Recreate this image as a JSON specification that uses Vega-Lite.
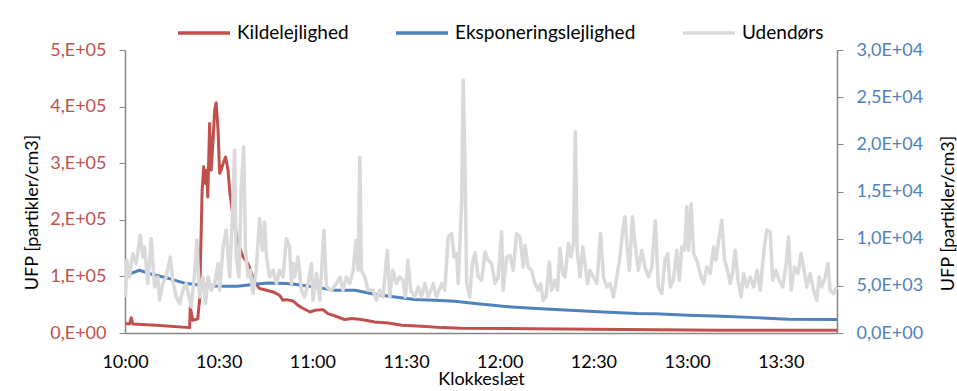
{
 "$schema": "https://vega.github.io/schema/vega-lite/v6.json",
 "width": 712, "height": 283,
 "autosize": "none",
 "padding": {"left": 125, "top": 50, "right": 120, "bottom": 58},
 "background": "white",
 "config": {"view": {"stroke": null}, "font": "Lato"},
 "datasets": {
  "red": [
   {"t":"10:00:10","serie":"Kildelejlighed","v":16600},
   {"t":"10:01:30","serie":"Kildelejlighed","v":16000},
   {"t":"10:02:00","serie":"Kildelejlighed","v":27000},
   {"t":"10:02:30","serie":"Kildelejlighed","v":16000},
   {"t":"10:10:00","serie":"Kildelejlighed","v":13500},
   {"t":"10:20:42","serie":"Kildelejlighed","v":9500},
   {"t":"10:20:54","serie":"Kildelejlighed","v":46000},
   {"t":"10:21:42","serie":"Kildelejlighed","v":22500},
   {"t":"10:23:18","serie":"Kildelejlighed","v":25000},
   {"t":"10:23:54","serie":"Kildelejlighed","v":60000},
   {"t":"10:24:42","serie":"Kildelejlighed","v":252000},
   {"t":"10:25:12","serie":"Kildelejlighed","v":293600},
   {"t":"10:25:48","serie":"Kildelejlighed","v":264000},
   {"t":"10:26:12","serie":"Kildelejlighed","v":287700},
   {"t":"10:26:30","serie":"Kildelejlighed","v":240500},
   {"t":"10:27:06","serie":"Kildelejlighed","v":370000},
   {"t":"10:27:36","serie":"Kildelejlighed","v":287700},
   {"t":"10:28:12","serie":"Kildelejlighed","v":340800},
   {"t":"10:28:42","serie":"Kildelejlighed","v":394000},
   {"t":"10:29:12","serie":"Kildelejlighed","v":406800},
   {"t":"10:29:48","serie":"Kildelejlighed","v":358500},
   {"t":"10:30:18","serie":"Kildelejlighed","v":282000},
   {"t":"10:30:48","serie":"Kildelejlighed","v":287700},
   {"t":"10:31:24","serie":"Kildelejlighed","v":299600},
   {"t":"10:32:12","serie":"Kildelejlighed","v":311000},
   {"t":"10:33:00","serie":"Kildelejlighed","v":287700},
   {"t":"10:33:30","serie":"Kildelejlighed","v":252000},
   {"t":"10:34:36","serie":"Kildelejlighed","v":205000},
   {"t":"10:36:12","serie":"Kildelejlighed","v":158000},
   {"t":"10:37:48","serie":"Kildelejlighed","v":134400},
   {"t":"10:39:24","serie":"Kildelejlighed","v":122700},
   {"t":"10:40:30","serie":"Kildelejlighed","v":105000},
   {"t":"10:41:30","serie":"Kildelejlighed","v":90200},
   {"t":"10:43:06","serie":"Kildelejlighed","v":78500},
   {"t":"10:45:18","serie":"Kildelejlighed","v":75500},
   {"t":"10:47:24","serie":"Kildelejlighed","v":72500},
   {"t":"10:49:30","serie":"Kildelejlighed","v":66700},
   {"t":"10:50:36","serie":"Kildelejlighed","v":57800},
   {"t":"10:51:42","serie":"Kildelejlighed","v":59000},
   {"t":"10:53:48","serie":"Kildelejlighed","v":56600},
   {"t":"10:55:24","serie":"Kildelejlighed","v":49000},
   {"t":"10:56:30","serie":"Kildelejlighed","v":45000},
   {"t":"10:59:12","serie":"Kildelejlighed","v":37100},
   {"t":"11:00:48","serie":"Kildelejlighed","v":40000},
   {"t":"11:03:24","serie":"Kildelejlighed","v":41300},
   {"t":"11:05:00","serie":"Kildelejlighed","v":34300},
   {"t":"11:08:12","serie":"Kildelejlighed","v":28300},
   {"t":"11:10:24","serie":"Kildelejlighed","v":23700},
   {"t":"11:12:30","serie":"Kildelejlighed","v":25500},
   {"t":"11:15:42","serie":"Kildelejlighed","v":23700},
   {"t":"11:20:00","serie":"Kildelejlighed","v":19500},
   {"t":"11:24:18","serie":"Kildelejlighed","v":17700},
   {"t":"11:28:36","serie":"Kildelejlighed","v":13600},
   {"t":"11:35:00","serie":"Kildelejlighed","v":11800},
   {"t":"11:41:24","serie":"Kildelejlighed","v":9500},
   {"t":"11:47:48","serie":"Kildelejlighed","v":8300},
   {"t":"12:10:00","serie":"Kildelejlighed","v":7500},
   {"t":"12:40:00","serie":"Kildelejlighed","v":6000},
   {"t":"13:10:00","serie":"Kildelejlighed","v":5000},
   {"t":"13:48:00","serie":"Kildelejlighed","v":5000}
  ],
  "blue": [
   {"t":"10:00:10","serie":"Eksponeringslejlighed","v":6100},
   {"t":"10:04:36","serie":"Eksponeringslejlighed","v":6650},
   {"t":"10:08:54","serie":"Eksponeringslejlighed","v":6200},
   {"t":"10:14:12","serie":"Eksponeringslejlighed","v":5770},
   {"t":"10:19:36","serie":"Eksponeringslejlighed","v":5240},
   {"t":"10:24:54","serie":"Eksponeringslejlighed","v":5060},
   {"t":"10:30:18","serie":"Eksponeringslejlighed","v":4950},
   {"t":"10:36:00","serie":"Eksponeringslejlighed","v":4950},
   {"t":"10:41:30","serie":"Eksponeringslejlighed","v":5170},
   {"t":"10:45:48","serie":"Eksponeringslejlighed","v":5300},
   {"t":"10:51:42","serie":"Eksponeringslejlighed","v":5240},
   {"t":"10:54:18","serie":"Eksponeringslejlighed","v":5170},
   {"t":"11:00:48","serie":"Eksponeringslejlighed","v":4880},
   {"t":"11:07:12","serie":"Eksponeringslejlighed","v":4530},
   {"t":"11:13:36","serie":"Eksponeringslejlighed","v":4530},
   {"t":"11:20:00","serie":"Eksponeringslejlighed","v":4110},
   {"t":"11:26:24","serie":"Eksponeringslejlighed","v":3820},
   {"t":"11:32:48","serie":"Eksponeringslejlighed","v":3540},
   {"t":"11:39:12","serie":"Eksponeringslejlighed","v":3470},
   {"t":"11:45:42","serie":"Eksponeringslejlighed","v":3360},
   {"t":"11:52:06","serie":"Eksponeringslejlighed","v":3120},
   {"t":"12:01:06","serie":"Eksponeringslejlighed","v":2830},
   {"t":"12:11:48","serie":"Eksponeringslejlighed","v":2590},
   {"t":"12:22:30","serie":"Eksponeringslejlighed","v":2410},
   {"t":"12:33:12","serie":"Eksponeringslejlighed","v":2230},
   {"t":"12:43:54","serie":"Eksponeringslejlighed","v":2060},
   {"t":"12:49:48","serie":"Eksponeringslejlighed","v":2040},
   {"t":"13:00:24","serie":"Eksponeringslejlighed","v":1880},
   {"t":"13:11:06","serie":"Eksponeringslejlighed","v":1770},
   {"t":"13:21:48","serie":"Eksponeringslejlighed","v":1630},
   {"t":"13:32:30","serie":"Eksponeringslejlighed","v":1450},
   {"t":"13:48:00","serie":"Eksponeringslejlighed","v":1420}
  ],
  "gray": [
   {"t":"10:00:10","serie":"Udendørs","v":3820},
   {"t":"10:00:35","serie":"Udendørs","v":7710},
   {"t":"10:01:26","serie":"Udendørs","v":5940},
   {"t":"10:02:31","serie":"Udendørs","v":8420},
   {"t":"10:03:35","serie":"Udendørs","v":7360},
   {"t":"10:04:52","serie":"Udendørs","v":10370},
   {"t":"10:05:43","serie":"Udendørs","v":8060},
   {"t":"10:06:15","serie":"Udendørs","v":9130},
   {"t":"10:07:19","serie":"Udendørs","v":5240},
   {"t":"10:08:23","serie":"Udendørs","v":10010},
   {"t":"10:09:28","serie":"Udendørs","v":4880},
   {"t":"10:10:30","serie":"Udendørs","v":5940},
   {"t":"10:11:04","serie":"Udendørs","v":3470},
   {"t":"10:12:06","serie":"Udendørs","v":5240},
   {"t":"10:13:12","serie":"Udendørs","v":5940},
   {"t":"10:14:30","serie":"Udendørs","v":8060},
   {"t":"10:15:18","serie":"Udendørs","v":5590},
   {"t":"10:16:24","serie":"Udendørs","v":3820},
   {"t":"10:17:30","serie":"Udendørs","v":3120},
   {"t":"10:18:30","serie":"Udendørs","v":4530},
   {"t":"10:19:36","serie":"Udendørs","v":5240},
   {"t":"10:21:12","serie":"Udendørs","v":2760},
   {"t":"10:22:18","serie":"Udendørs","v":6300},
   {"t":"10:23:00","serie":"Udendørs","v":9830},
   {"t":"10:23:54","serie":"Udendørs","v":3820},
   {"t":"10:24:54","serie":"Udendørs","v":5940},
   {"t":"10:25:48","serie":"Udendørs","v":3120},
   {"t":"10:26:36","serie":"Udendørs","v":5940},
   {"t":"10:27:36","serie":"Udendørs","v":4530},
   {"t":"10:28:42","serie":"Udendørs","v":5240},
   {"t":"10:29:48","serie":"Udendørs","v":7360},
   {"t":"10:30:18","serie":"Udendørs","v":4530},
   {"t":"10:31:24","serie":"Udendørs","v":9130},
   {"t":"10:32:24","serie":"Udendørs","v":10900},
   {"t":"10:33:30","serie":"Udendørs","v":5940},
   {"t":"10:34:24","serie":"Udendørs","v":12310},
   {"t":"10:35:06","serie":"Udendørs","v":19380},
   {"t":"10:35:36","serie":"Udendørs","v":8060},
   {"t":"10:36:30","serie":"Udendørs","v":5940},
   {"t":"10:37:12","serie":"Udendørs","v":15140},
   {"t":"10:38:00","serie":"Udendørs","v":19730},
   {"t":"10:38:36","serie":"Udendørs","v":8770},
   {"t":"10:39:24","serie":"Udendørs","v":5940},
   {"t":"10:40:06","serie":"Udendørs","v":6650},
   {"t":"10:41:00","serie":"Udendørs","v":4180},
   {"t":"10:42:00","serie":"Udendørs","v":6650},
   {"t":"10:43:06","serie":"Udendørs","v":12140},
   {"t":"10:43:58","serie":"Udendørs","v":8770},
   {"t":"10:44:42","serie":"Udendørs","v":11780},
   {"t":"10:45:18","serie":"Udendørs","v":8060},
   {"t":"10:46:18","serie":"Udendørs","v":5940},
   {"t":"10:47:24","serie":"Udendørs","v":6650},
   {"t":"10:48:30","serie":"Udendørs","v":5240},
   {"t":"10:49:30","serie":"Udendørs","v":6650},
   {"t":"10:50:36","serie":"Udendørs","v":5940},
   {"t":"10:51:42","serie":"Udendørs","v":10010},
   {"t":"10:52:42","serie":"Udendørs","v":9130},
   {"t":"10:53:18","serie":"Udendørs","v":5240},
   {"t":"10:53:48","serie":"Udendørs","v":7360},
   {"t":"10:54:18","serie":"Udendørs","v":5940},
   {"t":"10:55:24","serie":"Udendørs","v":8060},
   {"t":"10:56:30","serie":"Udendørs","v":4530},
   {"t":"10:57:30","serie":"Udendørs","v":3820},
   {"t":"10:58:36","serie":"Udendørs","v":5240},
   {"t":"10:59:42","serie":"Udendørs","v":7360},
   {"t":"11:00:12","serie":"Udendørs","v":3470},
   {"t":"11:01:18","serie":"Udendørs","v":6300},
   {"t":"11:02:24","serie":"Udendørs","v":3470},
   {"t":"11:03:42","serie":"Udendørs","v":10900},
   {"t":"11:04:30","serie":"Udendørs","v":4880},
   {"t":"11:06:06","serie":"Udendørs","v":4530},
   {"t":"11:07:42","serie":"Udendørs","v":5240},
   {"t":"11:08:48","serie":"Udendørs","v":5940},
   {"t":"11:09:48","serie":"Udendørs","v":4530},
   {"t":"11:10:54","serie":"Udendørs","v":5940},
   {"t":"11:12:00","serie":"Udendørs","v":5240},
   {"t":"11:13:06","serie":"Udendørs","v":6650},
   {"t":"11:13:54","serie":"Udendørs","v":9830},
   {"t":"11:14:39","serie":"Udendørs","v":6650},
   {"t":"11:15:12","serie":"Udendørs","v":18670},
   {"t":"11:15:42","serie":"Udendørs","v":6650},
   {"t":"11:16:48","serie":"Udendørs","v":5940},
   {"t":"11:17:48","serie":"Udendørs","v":4530},
   {"t":"11:19:24","serie":"Udendørs","v":4530},
   {"t":"11:20:30","serie":"Udendørs","v":3470},
   {"t":"11:21:30","serie":"Udendørs","v":4530},
   {"t":"11:22:36","serie":"Udendørs","v":3820},
   {"t":"11:24:00","serie":"Udendørs","v":8770},
   {"t":"11:24:48","serie":"Udendørs","v":3820},
   {"t":"11:25:48","serie":"Udendørs","v":6650},
   {"t":"11:26:54","serie":"Udendørs","v":5240},
   {"t":"11:28:00","serie":"Udendørs","v":5940},
   {"t":"11:29:00","serie":"Udendørs","v":5590},
   {"t":"11:29:48","serie":"Udendørs","v":3820},
   {"t":"11:30:36","serie":"Udendørs","v":7710},
   {"t":"11:31:30","serie":"Udendørs","v":4530},
   {"t":"11:32:48","serie":"Udendørs","v":3820},
   {"t":"11:33:54","serie":"Udendørs","v":4880},
   {"t":"11:34:54","serie":"Udendørs","v":3820},
   {"t":"11:36:00","serie":"Udendørs","v":5240},
   {"t":"11:37:06","serie":"Udendørs","v":3820},
   {"t":"11:38:42","serie":"Udendørs","v":5240},
   {"t":"11:39:42","serie":"Udendørs","v":3820},
   {"t":"11:41:24","serie":"Udendørs","v":5240},
   {"t":"11:42:24","serie":"Udendørs","v":4530},
   {"t":"11:43:30","serie":"Udendørs","v":10190},
   {"t":"11:44:36","serie":"Udendørs","v":10550},
   {"t":"11:45:24","serie":"Udendørs","v":8060},
   {"t":"11:46:12","serie":"Udendørs","v":8420},
   {"t":"11:46:42","serie":"Udendørs","v":5240},
   {"t":"11:47:48","serie":"Udendørs","v":13730},
   {"t":"11:48:18","serie":"Udendørs","v":26810},
   {"t":"11:48:54","serie":"Udendørs","v":17260},
   {"t":"11:49:24","serie":"Udendørs","v":5240},
   {"t":"11:50:24","serie":"Udendørs","v":3820},
   {"t":"11:51:12","serie":"Udendørs","v":7300},
   {"t":"11:52:06","serie":"Udendørs","v":8500},
   {"t":"11:53:06","serie":"Udendørs","v":5940},
   {"t":"11:54:12","serie":"Udendørs","v":5590},
   {"t":"11:55:18","serie":"Udendørs","v":8590},
   {"t":"11:56:18","serie":"Udendørs","v":7710},
   {"t":"11:57:24","serie":"Udendørs","v":7360},
   {"t":"11:58:30","serie":"Udendørs","v":5240},
   {"t":"11:59:30","serie":"Udendørs","v":5940},
   {"t":"12:00:36","serie":"Udendørs","v":10720},
   {"t":"12:01:06","serie":"Udendørs","v":4530},
   {"t":"12:02:12","serie":"Udendørs","v":8060},
   {"t":"12:03:18","serie":"Udendørs","v":8240},
   {"t":"12:04:18","serie":"Udendørs","v":6650},
   {"t":"12:05:24","serie":"Udendørs","v":10550},
   {"t":"12:06:30","serie":"Udendørs","v":10190},
   {"t":"12:07:30","serie":"Udendørs","v":7000},
   {"t":"12:08:06","serie":"Udendørs","v":9300},
   {"t":"12:09:06","serie":"Udendørs","v":7000},
   {"t":"12:10:12","serie":"Udendørs","v":6650},
   {"t":"12:11:18","serie":"Udendørs","v":5240},
   {"t":"12:12:18","serie":"Udendørs","v":4530},
   {"t":"12:13:06","serie":"Udendørs","v":5240},
   {"t":"12:13:54","serie":"Udendørs","v":3470},
   {"t":"12:14:48","serie":"Udendørs","v":3820},
   {"t":"12:15:54","serie":"Udendørs","v":7530},
   {"t":"12:16:36","serie":"Udendørs","v":4530},
   {"t":"12:17:42","serie":"Udendørs","v":5590},
   {"t":"12:18:30","serie":"Udendørs","v":4530},
   {"t":"12:19:18","serie":"Udendørs","v":8950},
   {"t":"12:20:12","serie":"Udendørs","v":6300},
   {"t":"12:20:54","serie":"Udendørs","v":5940},
   {"t":"12:22:00","serie":"Udendørs","v":9480},
   {"t":"12:22:48","serie":"Udendørs","v":8060},
   {"t":"12:23:36","serie":"Udendørs","v":9480},
   {"t":"12:24:12","serie":"Udendørs","v":21330},
   {"t":"12:24:48","serie":"Udendørs","v":8770},
   {"t":"12:25:42","serie":"Udendørs","v":5940},
   {"t":"12:26:36","serie":"Udendørs","v":9130},
   {"t":"12:27:18","serie":"Udendørs","v":7360},
   {"t":"12:28:06","serie":"Udendørs","v":5240},
   {"t":"12:28:54","serie":"Udendørs","v":6650},
   {"t":"12:30:00","serie":"Udendørs","v":5940},
   {"t":"12:31:06","serie":"Udendørs","v":5240},
   {"t":"12:32:18","serie":"Udendørs","v":10550},
   {"t":"12:33:12","serie":"Udendørs","v":5940},
   {"t":"12:34:18","serie":"Udendørs","v":4880},
   {"t":"12:35:18","serie":"Udendørs","v":5240},
   {"t":"12:36:24","serie":"Udendørs","v":3820},
   {"t":"12:37:30","serie":"Udendørs","v":5940},
   {"t":"12:38:30","serie":"Udendørs","v":8060},
   {"t":"12:39:24","serie":"Udendørs","v":10900},
   {"t":"12:40:06","serie":"Udendørs","v":12310},
   {"t":"12:40:42","serie":"Udendørs","v":9480},
   {"t":"12:41:30","serie":"Udendørs","v":6650},
   {"t":"12:42:30","serie":"Udendørs","v":12310},
   {"t":"12:43:18","serie":"Udendørs","v":9480},
   {"t":"12:44:24","serie":"Udendørs","v":6650},
   {"t":"12:45:30","serie":"Udendørs","v":8770},
   {"t":"12:46:30","serie":"Udendørs","v":7000},
   {"t":"12:47:36","serie":"Udendørs","v":5940},
   {"t":"12:48:42","serie":"Udendørs","v":7000},
   {"t":"12:49:48","serie":"Udendørs","v":11900},
   {"t":"12:50:48","serie":"Udendørs","v":4880},
   {"t":"12:51:54","serie":"Udendørs","v":4180},
   {"t":"12:52:54","serie":"Udendørs","v":7710},
   {"t":"12:53:48","serie":"Udendørs","v":8420},
   {"t":"12:54:36","serie":"Udendørs","v":4880},
   {"t":"12:55:36","serie":"Udendørs","v":5590},
   {"t":"12:56:42","serie":"Udendørs","v":8770},
   {"t":"12:57:30","serie":"Udendørs","v":5590},
   {"t":"12:58:18","serie":"Udendørs","v":9130},
   {"t":"12:59:12","serie":"Udendørs","v":8770},
   {"t":"12:59:54","serie":"Udendørs","v":13370},
   {"t":"13:00:30","serie":"Udendørs","v":8770},
   {"t":"13:01:18","serie":"Udendørs","v":13730},
   {"t":"13:02:06","serie":"Udendørs","v":8420},
   {"t":"13:03:06","serie":"Udendørs","v":7710},
   {"t":"13:04:12","serie":"Udendørs","v":6300},
   {"t":"13:05:18","serie":"Udendørs","v":5240},
   {"t":"13:06:18","serie":"Udendørs","v":7000},
   {"t":"13:07:24","serie":"Udendørs","v":6300},
   {"t":"13:08:30","serie":"Udendørs","v":9130},
   {"t":"13:09:12","serie":"Udendørs","v":7710},
   {"t":"13:10:06","serie":"Udendørs","v":9830},
   {"t":"13:11:06","serie":"Udendørs","v":11960},
   {"t":"13:12:00","serie":"Udendørs","v":7710},
   {"t":"13:12:42","serie":"Udendørs","v":7000},
   {"t":"13:13:48","serie":"Udendørs","v":5240},
   {"t":"13:14:30","serie":"Udendørs","v":6300},
   {"t":"13:15:24","serie":"Udendørs","v":8770},
   {"t":"13:16:18","serie":"Udendørs","v":5590},
   {"t":"13:17:18","serie":"Udendørs","v":3820},
   {"t":"13:18:06","serie":"Udendørs","v":6300},
   {"t":"13:19:06","serie":"Udendørs","v":4880},
   {"t":"13:20:12","serie":"Udendørs","v":5940},
   {"t":"13:21:18","serie":"Udendørs","v":4880},
   {"t":"13:22:24","serie":"Udendørs","v":6650},
   {"t":"13:23:24","serie":"Udendørs","v":4530},
   {"t":"13:24:30","serie":"Udendørs","v":8420},
   {"t":"13:25:30","serie":"Udendørs","v":10900},
   {"t":"13:26:36","serie":"Udendørs","v":10720},
   {"t":"13:27:24","serie":"Udendørs","v":5590},
   {"t":"13:28:24","serie":"Udendørs","v":6650},
   {"t":"13:29:30","serie":"Udendørs","v":5590},
   {"t":"13:30:36","serie":"Udendørs","v":4880},
   {"t":"13:31:36","serie":"Udendørs","v":7000},
   {"t":"13:32:30","serie":"Udendørs","v":10190},
   {"t":"13:33:18","serie":"Udendørs","v":4530},
   {"t":"13:34:24","serie":"Udendørs","v":7000},
   {"t":"13:35:30","serie":"Udendørs","v":6300},
   {"t":"13:36:30","serie":"Udendørs","v":8420},
   {"t":"13:37:18","serie":"Udendørs","v":7000},
   {"t":"13:38:18","serie":"Udendørs","v":4880},
   {"t":"13:39:24","serie":"Udendørs","v":6300},
   {"t":"13:40:30","serie":"Udendørs","v":4530},
   {"t":"13:41:30","serie":"Udendørs","v":3470},
   {"t":"13:42:18","serie":"Udendørs","v":5940},
   {"t":"13:43:06","serie":"Udendørs","v":4880},
   {"t":"13:44:12","serie":"Udendørs","v":5940},
   {"t":"13:45:06","serie":"Udendørs","v":7360},
   {"t":"13:45:48","serie":"Udendørs","v":4530},
   {"t":"13:46:54","serie":"Udendørs","v":4180},
   {"t":"13:48:00","serie":"Udendørs","v":4880}
  ]
 },
 "encoding": {
  "x": {
   "field": "t", "type": "temporal",
   "scale": {"domain": [
     {"year": 1900, "month": 1, "date": 1, "hours": 10, "minutes": 0},
     {"year": 1900, "month": 1, "date": 1, "hours": 13, "minutes": 48}
   ]},
   "axis": {
    "values": [
     {"year": 1900, "month": 1, "date": 1, "hours": 10, "minutes": 0},
     {"year": 1900, "month": 1, "date": 1, "hours": 10, "minutes": 30},
     {"year": 1900, "month": 1, "date": 1, "hours": 11, "minutes": 0},
     {"year": 1900, "month": 1, "date": 1, "hours": 11, "minutes": 30},
     {"year": 1900, "month": 1, "date": 1, "hours": 12, "minutes": 0},
     {"year": 1900, "month": 1, "date": 1, "hours": 12, "minutes": 30},
     {"year": 1900, "month": 1, "date": 1, "hours": 13, "minutes": 0},
     {"year": 1900, "month": 1, "date": 1, "hours": 13, "minutes": 30}
    ],
    "format": "%H:%M", "grid": false, "ticks": false,
    "labelFontSize": 18, "labelColor": "#000000", "labelPadding": 20, "labelFlush": false,
    "domainColor": "#868686", "domainWidth": 1.5,
    "title": "Klokkeslæt", "titleFontSize": 18, "titleFontWeight": "normal", "titleColor": "#000000", "titlePadding": -1
   }
  }
 },
 "layer": [
  {
   "data": {"name": "red", "format": {"parse": {"t": "date:'%H:%M:%S'"}}},
   "mark": {"type": "line", "strokeWidth": 3, "strokeJoin": "round"},
   "encoding": {
    "y": {"field": "v", "type": "quantitative",
     "scale": {"domain": [0, 500000]},
     "axis": {"orient": "left", "values": [0, 100000, 200000, 300000, 400000, 500000],
      "labelExpr": "datum.value == 0 ? '0,E+00' : round(datum.value/100000) + ',E+05'",
      "grid": false, "labelFontSize": 18, "labelColor": "#c0504d", "labelPadding": 13,
      "tickSize": 6, "tickColor": "#868686", "domainColor": "#868686", "domainWidth": 1.5,
      "title": "UFP [partikler/cm3]", "titleFontSize": 18, "titleFontWeight": "normal", "titleColor": "#000000", "titlePadding": 8, "titleY": 162}},
    "color": {"field": "serie", "type": "nominal",
     "scale": {"domain": ["Kildelejlighed", "Eksponeringslejlighed", "Udendørs"], "range": ["#c0504d", "#4f81bd", "#d9d9d9"]},
     "legend": {"orient": "none", "legendX": 51, "legendY": -45, "direction": "horizontal", "title": null,
      "symbolType": "stroke", "symbolSize": 2704, "symbolStrokeWidth": 3.5,
      "labelFontSize": 19, "labelColor": "#000000", "labelOffset": 5, "labelLimit": 400, "columnPadding": 40}}
   }
  },
  {
   "data": {"name": "blue", "format": {"parse": {"t": "date:'%H:%M:%S'"}}},
   "mark": {"type": "line", "strokeWidth": 3, "strokeJoin": "round"},
   "encoding": {
    "y": {"field": "v", "type": "quantitative",
     "scale": {"domain": [0, 30000]},
     "axis": {"orient": "right", "values": [0, 5000, 10000, 15000, 20000, 25000, 30000],
      "labelExpr": "datum.value == 0 ? '0,0E+00' : (datum.value < 10000 ? replace(format(datum.value/1000, '.1f'), '.', ',') + 'E+03' : replace(format(datum.value/10000, '.1f'), '.', ',') + 'E+04')",
      "grid": false, "labelFontSize": 18, "labelColor": "#4f81bd", "labelPadding": 13,
      "tickSize": 6, "tickColor": "#868686", "domainColor": "#868686", "domainWidth": 1.5,
      "title": "UFP [partikler/cm3]", "titleAngle": 270, "titleBaseline": "top", "titleFontSize": 18, "titleFontWeight": "normal", "titleColor": "#000000", "titlePadding": 17, "titleY": 163}},
    "color": {"field": "serie", "type": "nominal"}
   }
  },
  {
   "data": {"name": "gray", "format": {"parse": {"t": "date:'%H:%M:%S'"}}},
   "mark": {"type": "line", "strokeWidth": 3.5, "strokeJoin": "round"},
   "encoding": {
    "y": {"field": "v", "type": "quantitative", "scale": {"domain": [0, 30000]}, "axis": null},
    "color": {"field": "serie", "type": "nominal"}
   }
  }
 ],
 "resolve": {"scale": {"y": "independent"}}
}
